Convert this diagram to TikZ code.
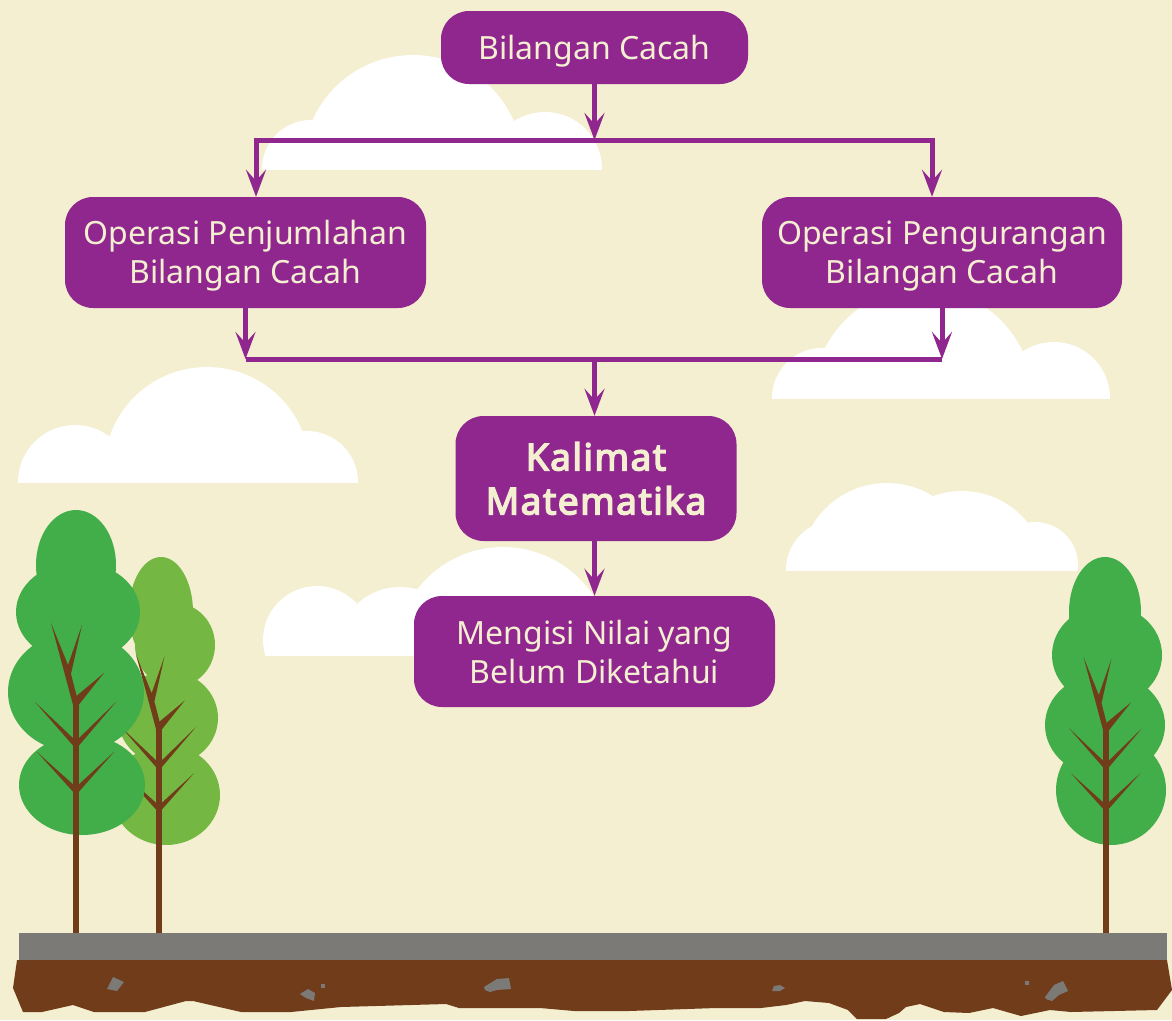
\documentclass[tikz,border=0pt]{standalone}
\usepackage{fontspec}
\setmainfont{Noto Sans}
\newfontfamily\headfont{Noto Sans}[FakeBold=4,LetterSpace=4]
\usetikzlibrary{arrows.meta}

\definecolor{bgcream}{HTML}{F4EFD1}
\definecolor{plum}{HTML}{8F278F}
\definecolor{leafdark}{HTML}{41AE4A}
\definecolor{leaflight}{HTML}{74B743}
\definecolor{bark}{HTML}{713C1A}
\definecolor{stone}{HTML}{7B7A77}

% even line boxes, so every label sits at the same height in its box
\newcommand\linestrut{\rule[-\dimexpr0.3\baselineskip-5pt\relax]{0pt}{\baselineskip}}

\tikzset{
  box/.style={fill=plum, text=bgcream, rounded corners=28pt, align=center,
    inner sep=0pt, font=\fontsize{32}{37}\selectfont},
  conn/.style={draw=plum, line width=5pt},
  tip/.style={-{Stealth[length=27pt,width=20pt,inset=11pt]}},
  twotip/.style={{Stealth[length=27pt,width=20pt,inset=11pt]}-{Stealth[length=27pt,width=20pt,inset=11pt]}},
}

% branches of a tree, fork of the leader at (0,0), y pointing down
\newcommand\treebranches[3]{%
  \begin{scope}[shift={(#1,#2)},scale=#3]
    \fill[bark] (-3,4) -- (-3,0) -- (-11,-30) -- (-25,-82) -- (-8,-40)
      -- (6,-80) -- (-5,-31) -- (3,0) -- (3,4) -- cycle;
    \fill[bark] (1,2) -- (28,-32) -- (-2,-7) -- cycle;
    \fill[bark] (0,44) -- (-41,-3) -- (0,36) -- cycle;
    \fill[bark] (0,44) -- (40,-3) -- (0,36) -- cycle;
    \fill[bark] (0,90) -- (-39,47) -- (0,82) -- cycle;
    \fill[bark] (0,90) -- (38,47) -- (0,82) -- cycle;
  \end{scope}}

\begin{document}
\begin{tikzpicture}[x=1pt,y=-1pt]
\useasboundingbox (0,0) rectangle (1172,1020);
\fill[bgcream] (0,0) rectangle (1172,1020);

% clouds
\begin{scope}
  \clip (0,0) rectangle (1172,169);
  \fill[white] (311,169) circle[radius=49pt] (413,165) circle[radius=110pt]
    (545,169) circle[radius=57pt];
\end{scope}
\begin{scope}
  \clip (0,300) rectangle (1172,482);
  \fill[white] (75,482) circle[radius=57pt] (207,470) circle[radius=103pt]
    (307,482) circle[radius=51pt];
\end{scope}
\begin{scope}
  \clip (0,250) rectangle (1172,398);
  \fill[white] (822,398) circle[radius=50pt] (923,398) circle[radius=110pt]
    (1054,398) circle[radius=56pt];
\end{scope}
\begin{scope}
  \clip (0,450) rectangle (1172,570);
  \fill[white] (836,570) circle[radius=50pt] (887,570) circle[radius=87pt]
    (962,575) circle[radius=84pt] (1035,565) circle[radius=43pt];
\end{scope}
\begin{scope}
  \clip (0,530) rectangle (1172,655);
  \fill[white] (317,640) circle[radius=54pt] (400,650) circle[radius=63pt]
    (503,655) circle[radius=108pt];
\end{scope}

% back tree (light green)
\fill[leaflight] (161,612) ellipse[x radius=32pt,y radius=55pt]
  (175,645) ellipse[x radius=40pt,y radius=42pt]
  (168,718) ellipse[x radius=50pt,y radius=47pt]
  (166,795) ellipse[x radius=54pt,y radius=50pt];
\fill[bark] (156,730) rectangle (162,933);
\treebranches{159}{730}{0.92}

% front left tree
\fill[leafdark] (76,565) ellipse[x radius=40pt,y radius=55pt]
  (78,612) ellipse[x radius=62pt,y radius=50pt]
  (76,692) ellipse[x radius=68pt,y radius=60pt]
  (82,785) ellipse[x radius=63pt,y radius=50pt];
\fill[bark] (73,705) rectangle (79,933);
\treebranches{76}{705}{1}

% right tree
\fill[leafdark] (1105,612) ellipse[x radius=36pt,y radius=55pt]
  (1107,655) ellipse[x radius=55pt,y radius=50pt]
  (1105,725) ellipse[x radius=60pt,y radius=52pt]
  (1111,790) ellipse[x radius=55pt,y radius=55pt];
\fill[bark] (1103,731) rectangle (1109,933);
\treebranches{1106}{731}{0.9}

% ground
\fill[stone] (19,933) rectangle (1167,960);
\fill[bark] (17,960) -- (13,988) -- (23,1012) -- (42,1012) -- (73,1005)
  -- (94,1012) -- (145,1012) -- (186,1001) -- (193,1001) -- (241,1012)
  -- (291,1012) -- (341,1007) -- (446,1004) -- (459,1008) -- (540,1008)
  -- (574,1011) -- (629,1011) -- (716,1008) -- (761,1008) -- (786,1005)
  -- (805,1001) -- (829,1003) -- (848,1010) -- (857,1019) -- (886,1019)
  -- (899,1013) -- (906,1007) -- (920,1004) -- (944,1012) -- (969,1013)
  -- (993,1008) -- (1021,1016) -- (1050,1010) -- (1071,1012) -- (1157,1010)
  -- (1172,990) -- (1167,960) -- cycle;
% pebbles
\fill[stone] (113,977) -- (124,982) -- (117,991) -- (107,989) -- cycle;
\fill[stone] (300,994) -- (308,989) -- (315,993) -- (314,1001) -- (306,998) -- cycle;
\fill[stone] (321,984) rectangle (325,988);
\fill[stone] (484,987) -- (497,979) -- (509,978) -- (511,989) -- (497,990)
  -- (490,992) -- (485,990) -- cycle;
\fill[stone] (772,991) -- (774,986) -- (780,985) -- (785,988) -- (780,991) -- cycle;
\fill[stone] (1025,981) rectangle (1029,985);
\fill[stone] (1045,997) -- (1054,985) -- (1063,981) -- (1068,991) -- (1059,995)
  -- (1052,1001) -- (1046,999) -- cycle;

% flow chart
\node[box, minimum width=307pt, minimum height=73pt] (bc) at (594.5,47.5) {\linestrut Bilangan Cacah};
\node[box, minimum width=361pt, minimum height=111pt] (add) at (245.5,252.5)
  {\linestrut Operasi Penjumlahan\\\linestrut Bilangan Cacah};
\node[box, minimum width=360pt, minimum height=111pt] (sub) at (942,252.5)
  {\linestrut Operasi Pengurangan\\\linestrut Bilangan Cacah};
\node[box, minimum width=281pt, minimum height=125pt,
  font=\headfont\fontsize{37}{44}\selectfont] (km) at (596,478.5)
  {\linestrut Kalimat\\\linestrut Matematika};
\node[box, minimum width=361pt, minimum height=111pt] (mn) at (594.5,651.5)
  {\linestrut Mengisi Nilai yang\\\linestrut Belum Diketahui};

\coordinate (hubTop) at (594.5,140);
\coordinate (hubTopL) at (256,140);
\coordinate (hubTopR) at (932,140);
\coordinate (hubBot) at (594.5,359);

\draw[conn,tip] (bc.south) -- (hubTop);
\draw[conn,twotip] (hubTopL |- add.north) -- (hubTopL) -- (hubTopR) -- (hubTopR |- sub.north);
\draw[conn,tip] (add.south) -- (add.south |- hubBot);
\draw[conn,tip] (sub.south) -- (sub.south |- hubBot);
\draw[conn] (add.south |- hubBot) -- (sub.south |- hubBot);
\draw[conn,tip] (hubBot) -- (hubBot |- km.north);
\draw[conn,tip] (hubBot |- km.south) -- (mn.north);
\end{tikzpicture}
\end{document}
